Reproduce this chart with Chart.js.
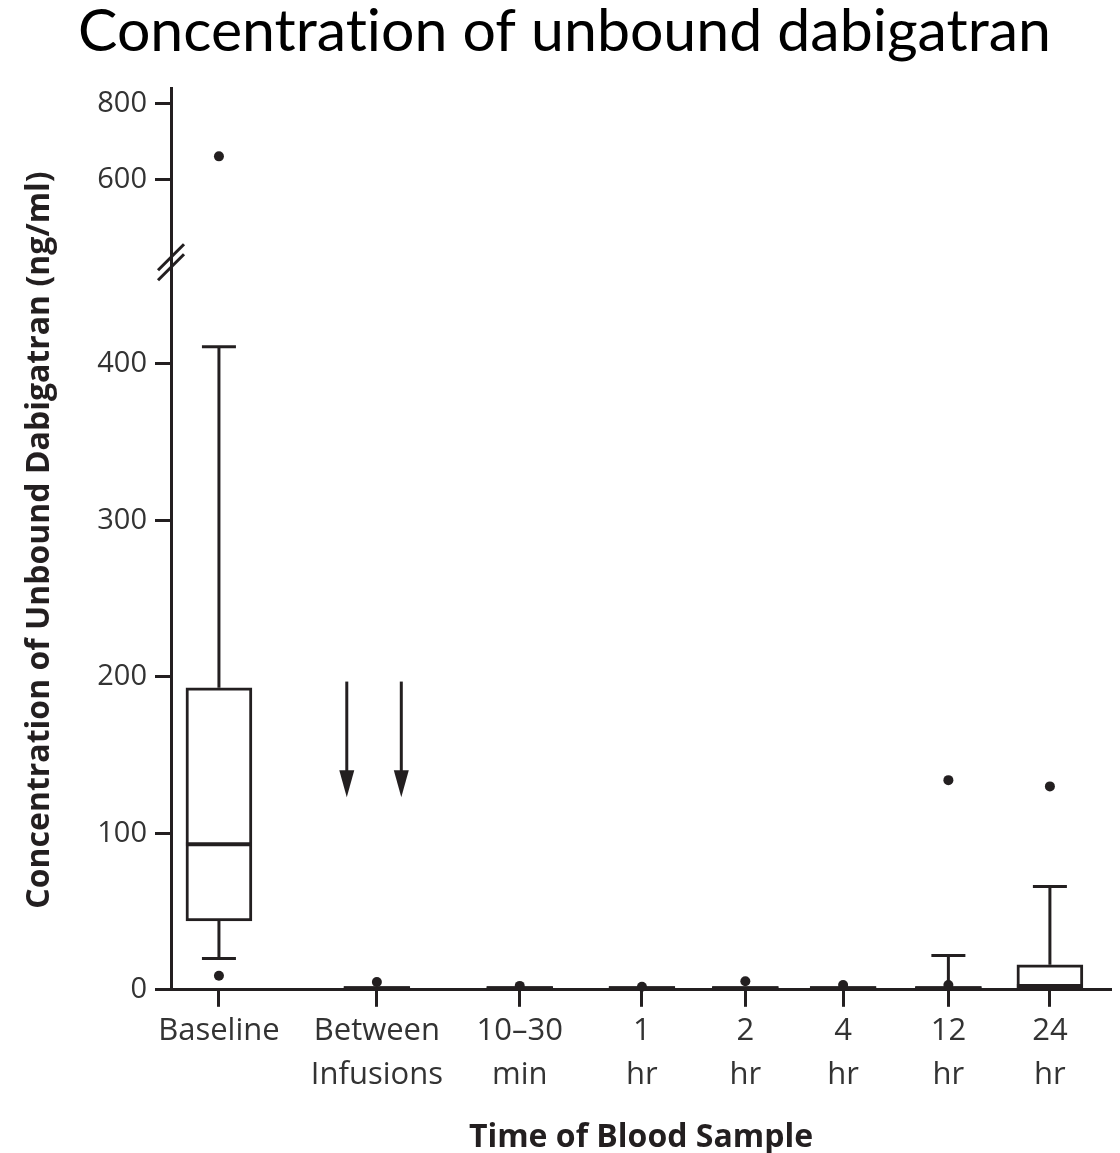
<!DOCTYPE html>
<html>
<head>
<meta charset="utf-8">
<script src="https://cdn.jsdelivr.net/npm/chart.js@4.4.1/dist/chart.umd.min.js"></script>
<style>
  html, body { margin: 0; padding: 0; background: #ffffff; }
  #wrap { width: 1120px; height: 1153px; }
</style>
</head>
<body>
<div id="wrap"><canvas id="c"></canvas></div>
<script>
// ---- data ----
const categories = ['Baseline', ['Between', 'Infusions'], ['10\u201330', 'min'], ['1', 'hr'], ['2', 'hr'], ['4', 'hr'], ['12', 'hr'], ['24', 'hr']];
const categoryPositions = [5.1, 21.9, 37.1, 50.1, 61.1, 71.5, 82.7, 93.5];
const q1Values = [44, 0, 0, 0, 0, 0, 0, 0.5];
const q3Values = [193, 2, 2, 2, 2, 2, 2, 16];
const medianValues = [93, 1, 1, 1, 1, 1, 1, 2.5];
const whiskerLowValues = [20, 0, 0, 0, 0, 0, 0, 0.5];
const whiskerHighValues = [411, 2, 2, 2, 2, 2, 22, 66];
const outlierCategory = [0, 1, 2, 3, 4, 5, 6, 6, 7];
const outlierValues = [9, 5, 2.5, 2, 5.5, 3, 3, 134, 130];
const highOutlierCategory = [0];
const highOutlierValues = [661];
const arrowPositions = [18.7, 24.5];
const arrowFrom = 197;
const arrowTo = 123;
const lowerTicks = [0, 100, 200, 300, 400];
const upperTicks = [600, 800];

const INK = '#231f20';
const LABEL = '#333333';

const boxData = categoryPositions.map((x, i) => ({ x: x, y: [q1Values[i], q3Values[i]] }));
const outlierData = outlierCategory.map((c, i) => ({ x: categoryPositions[c], y: outlierValues[i] }));
const highOutlierData = highOutlierCategory.map((c, i) => ({ x: categoryPositions[c], y: highOutlierValues[i] }));

const boxExtras = {
  id: 'boxExtras',
  beforeDraw(chart) {
    try { chart.ctx.textRendering = 'optimizeSpeed'; } catch (e) {}
  },
  afterDatasetsDraw(chart) {
    const ctx = chart.ctx;
    const xs = chart.scales.x, ys = chart.scales.y, yt = chart.scales.yTop;
    ctx.save();
    ctx.strokeStyle = INK;
    ctx.fillStyle = INK;
    ctx.lineCap = 'butt';
    const halfBox = 33, halfCap = 17;
    categoryPositions.forEach((pos, i) => {
      const px = xs.getPixelForValue(pos);
      const yQ1 = ys.getPixelForValue(q1Values[i]);
      const yQ3 = ys.getPixelForValue(q3Values[i]);
      const yHi = ys.getPixelForValue(whiskerHighValues[i]);
      const yLo = ys.getPixelForValue(whiskerLowValues[i]);
      const yMed = ys.getPixelForValue(medianValues[i]);
      ctx.lineWidth = 3;
      if (whiskerHighValues[i] > q3Values[i] + 2) {
        ctx.beginPath(); ctx.moveTo(px, yQ3); ctx.lineTo(px, yHi); ctx.stroke();
        ctx.beginPath(); ctx.moveTo(px - halfCap, yHi); ctx.lineTo(px + halfCap, yHi); ctx.stroke();
      }
      if (whiskerLowValues[i] < q1Values[i] - 2) {
        ctx.beginPath(); ctx.moveTo(px, yQ1); ctx.lineTo(px, yLo); ctx.stroke();
        ctx.beginPath(); ctx.moveTo(px - halfCap, yLo); ctx.lineTo(px + halfCap, yLo); ctx.stroke();
      }
      ctx.lineWidth = 4;
      ctx.beginPath(); ctx.moveTo(px - halfBox, yMed); ctx.lineTo(px + halfBox, yMed); ctx.stroke();
    });
    // arrows
    arrowPositions.forEach(pos => {
      const px = xs.getPixelForValue(pos);
      const yA = ys.getPixelForValue(arrowFrom);
      const yB = ys.getPixelForValue(arrowTo);
      ctx.lineWidth = 3;
      ctx.beginPath(); ctx.moveTo(px, yA); ctx.lineTo(px, yB - 20); ctx.stroke();
      ctx.beginPath();
      ctx.moveTo(px - 7.5, yB - 27);
      ctx.lineTo(px + 7.5, yB - 27);
      ctx.lineTo(px, yB);
      ctx.closePath();
      ctx.fill();
    });
    // axis break marks
    const bx = ys.right;
    const by = yt.bottom;
    ctx.lineWidth = 3;
    [-5, 5].forEach(off => {
      ctx.beginPath();
      ctx.moveTo(bx - 13, by + off + 13);
      ctx.lineTo(bx + 13, by + off - 13);
      ctx.stroke();
    });
    ctx.restore();
  },
  afterDraw(chart) {
    const ctx = chart.ctx;
    ctx.save();
    ctx.fillStyle = INK;
    ctx.font = 'bold 32px "Open Sans"';
    ctx.textAlign = 'center';
    ctx.textBaseline = 'middle';
    ctx.translate(40, 540);
    ctx.rotate(-Math.PI / 2);
    ctx.fillText('Concentration of Unbound Dabigatran (ng/ml)', 0, 0);
    ctx.restore();
  }
};

const fitLeftWidth = (scale) => { scale.width = 153; };

new Chart(document.getElementById('c'), {
  type: 'bar',
  data: {
    datasets: [
      {
        type: 'bar',
        data: boxData,
        yAxisID: 'y',
        backgroundColor: '#ffffff',
        borderColor: INK,
        borderWidth: 3,
        borderSkipped: false,
        barThickness: 66,
        order: 2
      },
      {
        type: 'scatter',
        data: outlierData,
        yAxisID: 'y',
        pointRadius: 5,
        pointBackgroundColor: INK,
        pointBorderColor: INK,
        pointBorderWidth: 0,
        clip: false,
        order: 1
      },
      {
        type: 'scatter',
        data: highOutlierData,
        yAxisID: 'yTop',
        pointRadius: 5,
        pointBackgroundColor: INK,
        pointBorderColor: INK,
        pointBorderWidth: 0,
        clip: false,
        order: 1
      }
    ]
  },
  options: {
    responsive: true,
    maintainAspectRatio: false,
    animation: false,
    layout: { padding: { left: 18, right: 9, top: 0, bottom: 0 } },
    plugins: {
      legend: { display: false },
      tooltip: { enabled: false },
      title: {
        display: true,
        text: 'Concentration of unbound dabigatran',
        color: '#000000',
        font: { family: 'Lato', size: 59, weight: 'normal', lineHeight: 1.1 },
        padding: { top: 0, bottom: 24 }
      }
    },
    scales: {
      x: {
        type: 'linear',
        min: 0,
        max: 100,
        offset: false,
        afterBuildTicks(scale) { scale.ticks = categoryPositions.map(v => ({ value: v })); },
        ticks: {
          autoSkip: false,
          maxRotation: 0,
          color: LABEL,
          padding: 3,
          font: { family: 'Open Sans', size: 31, lineHeight: 1.4 },
          callback: (v, i) => categories[i]
        },
        grid: { display: true, offset: false, drawOnChartArea: false, drawTicks: true, tickLength: 17, tickWidth: 3, tickColor: INK },
        border: { display: true, color: INK, width: 3 },
        title: {
          display: true,
          text: 'Time of Blood Sample',
          color: INK,
          font: { family: 'Open Sans', size: 32, weight: 'bold' },
          padding: { top: 19, bottom: -4 }
        }
      },
      y: {
        type: 'linear',
        position: 'left',
        stack: 'conc',
        stackWeight: 726,
        weight: 0,
        min: 0,
        max: 465,
        afterFit: fitLeftWidth,
        afterBuildTicks(scale) { scale.ticks = lowerTicks.map(v => ({ value: v })); },
        ticks: { color: LABEL, padding: 8, font: { family: 'Open Sans', size: 29 } },
        grid: { display: true, drawOnChartArea: false, drawTicks: true, tickLength: 16, tickWidth: 3, tickColor: INK },
        border: { display: true, color: INK, width: 3 }
      },
      yTop: {
        type: 'linear',
        position: 'left',
        stack: 'conc',
        stackWeight: 173,
        weight: 1,
        min: 380,
        max: 840,
        afterFit: fitLeftWidth,
        afterBuildTicks(scale) { scale.ticks = upperTicks.map(v => ({ value: v })); },
        ticks: { color: LABEL, padding: 8, font: { family: 'Open Sans', size: 29 } },
        grid: { display: true, drawOnChartArea: false, drawTicks: true, tickLength: 16, tickWidth: 3, tickColor: INK },
        border: { display: true, color: INK, width: 3 }
      }
    }
  },
  plugins: [boxExtras]
});
</script>
</body>
</html>
